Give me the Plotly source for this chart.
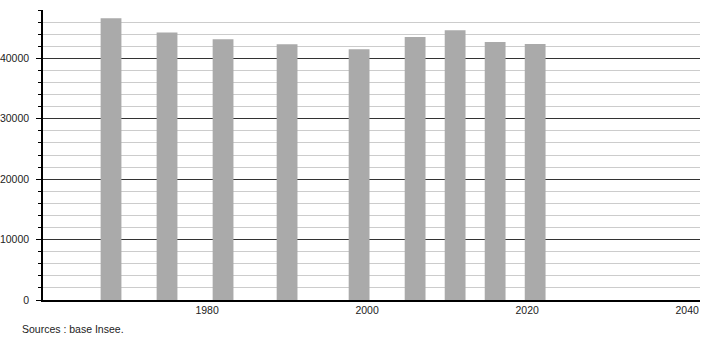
import plotly.graph_objects as go

years = [1968, 1975, 1982, 1990, 1999, 2006, 2011, 2016, 2021]
population = [46640, 44260, 43150, 42320, 41490, 43530, 44650, 42710, 42380]
x_ticks = [1980, 2000, 2020, 2040]
y_ticks = [0, 10000, 20000, 30000, 40000]
source_text = "Sources : base Insee."

FONT = "Liberation Sans, Arial, sans-serif"

fig = go.Figure()
fig.add_trace(go.Bar(
    x=years, y=population, width=2.6,
    marker=dict(color="#aaaaaa", line=dict(width=0)),
    hoverinfo="x+y",
))

fig.update_layout(
    width=710, height=340,
    margin=dict(l=43, r=10, t=10, b=40, autoexpand=False),
    paper_bgcolor="white", plot_bgcolor="white",
    showlegend=False,
    font=dict(family=FONT, size=10.5, color="#222222"),
    xaxis=dict(
        range=[1959.5, 2041.6], automargin=False,
        tickvals=x_ticks, ticktext=[str(v) for v in x_ticks],
        ticks="", showgrid=False, zeroline=False,
        showline=True, linecolor="black", linewidth=1.5,
        tickfont=dict(family=FONT, size=10.5, color="#222222"),
    ),
    yaxis=dict(
        range=[0, 48000], automargin=False,
        tickvals=y_ticks, ticktext=[str(v) for v in y_ticks],
        ticks="outside", ticklen=5, tickcolor="black", tickwidth=1,
        ticklabelstandoff=5,
        showgrid=True, gridcolor="#333333", gridwidth=1,
        zeroline=False,
        showline=True, linecolor="black", linewidth=1.5,
        tickfont=dict(family=FONT, size=10.5, color="#222222"),
        minor=dict(dtick=2000, tick0=0, showgrid=True, gridcolor="#cccccc",
                   gridwidth=1, ticks="outside", ticklen=3, tickcolor="black"),
    ),
    annotations=[dict(
        text=source_text, xref="paper", yref="paper",
        x=(20 - 43) / 657, y=-29 / 290, xanchor="left", yanchor="middle",
        showarrow=False, font=dict(family=FONT, size=10.5, color="#222222"),
    )],
)

fig.write_html("out.html")
